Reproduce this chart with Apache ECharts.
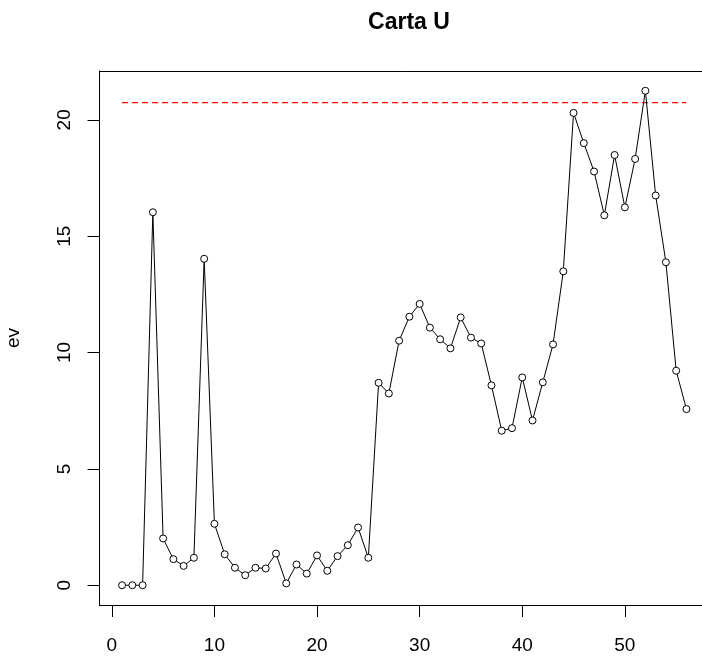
<!DOCTYPE html>
<html>
<head>
<meta charset="utf-8">
<script src="https://cdn.jsdelivr.net/npm/echarts@6/dist/echarts.min.js"></script>
<style>
  html, body { margin: 0; padding: 0; background: #fff; }
  #chart { width: 702px; height: 664px; }
</style>
</head>
<body>
<div id="chart"></div>
<script>
// U chart: number of events per sample with the upper control limit
const sampleValues = [
  0, 0, 0, 16.03, 2.01, 1.12, 0.83, 1.18, 14.03, 2.64,
  1.33, 0.75, 0.43, 0.75, 0.72, 1.36, 0.08, 0.89, 0.50, 1.28,
  0.62, 1.25, 1.72, 2.48, 1.18, 8.70, 8.24, 10.51, 11.54, 12.09,
  11.07, 10.57, 10.18, 11.51, 10.64, 10.39, 8.59, 6.64, 6.75, 8.93,
  7.08, 8.72, 10.35, 13.49, 20.30, 19.00, 17.78, 15.90, 18.49, 16.24,
  18.32, 21.25, 16.75, 13.88, 9.22, 7.57
];
const upperLimit = 20.74;
const xTicks = [0, 10, 20, 30, 40, 50];
const yTicks = [0, 5, 10, 15, 20];
const titleText = 'Carta U';
const yName = 'ev';

const points = sampleValues.map((v, i) => [i + 1, v]);
const limitLine = [[1, upperLimit], [sampleValues.length, upperLimit]];

const FONT = 'Liberation Sans, Arial, sans-serif';
const X_RANGE = { min: -1.2, max: 58.2 };
const Y_RANGE = { min: -0.85, max: 22.1 };
const chart = echarts.init(document.getElementById('chart'), null, { renderer: 'canvas' });

chart.setOption({
  animation: false,
  backgroundColor: '#ffffff',
  title: {
    text: titleText,
    left: 404,
    top: 6,
    textAlign: 'center',
    textStyle: { fontFamily: FONT, fontSize: 23, fontWeight: 'bold', color: '#000' }
  },
  grid: {
    left: 99.5, top: 71, right: -7, bottom: 59,
    outerBoundsMode: 'none',
    containLabel: false,
    show: false
  },
  xAxis: [
    {
      type: 'value',
      position: 'bottom',
      min: X_RANGE.min, max: X_RANGE.max,
      splitLine: { show: false },
      axisLine: { show: true, onZero: false, lineStyle: { color: '#000', width: 1 } },
      axisTick: { show: true, inside: false, length: 12, customValues: xTicks,
                  lineStyle: { color: '#000', width: 1 } },
      axisLabel: { show: true, customValues: xTicks, margin: 31,
                   fontFamily: FONT, fontSize: 19, color: '#000' },
      z: 5
    },
    {
      // top edge of the plot frame
      type: 'value',
      position: 'top',
      min: X_RANGE.min, max: X_RANGE.max,
      splitLine: { show: false },
      axisLine: { show: true, onZero: false, lineStyle: { color: '#000', width: 1 } },
      axisTick: { show: false },
      axisLabel: { show: false }
    }
  ],
  yAxis: [
    {
      type: 'value',
      position: 'left',
      min: Y_RANGE.min, max: Y_RANGE.max,
      name: yName,
      nameLocation: 'middle',
      nameRotate: 90,
      nameGap: 76,
      nameTextStyle: { fontFamily: FONT, fontSize: 19, color: '#000' },
      splitLine: { show: false },
      axisLine: { show: true, onZero: false, lineStyle: { color: '#000', width: 1 } },
      axisTick: { show: true, inside: false, length: 12, customValues: yTicks,
                  lineStyle: { color: '#000', width: 1 } },
      axisLabel: { show: true, customValues: yTicks, rotate: 90, margin: 25,
                   fontFamily: FONT, fontSize: 19, color: '#000' },
      z: 5
    }
  ],
  series: [
    {
      type: 'line',
      data: limitLine,
      symbol: 'none',
      silent: true,
      lineStyle: { color: '#ff0000', width: 1.3, type: [6, 4] },
      z: 1
    },
    {
      type: 'line',
      data: points,
      symbol: 'circle',
      symbolSize: 7,
      showAllSymbol: true,
      lineStyle: { color: '#000', width: 1 },
      itemStyle: { color: '#fff', borderColor: '#000', borderWidth: 1 },
      z: 2
    }
  ]
});
</script>
</body>
</html>
